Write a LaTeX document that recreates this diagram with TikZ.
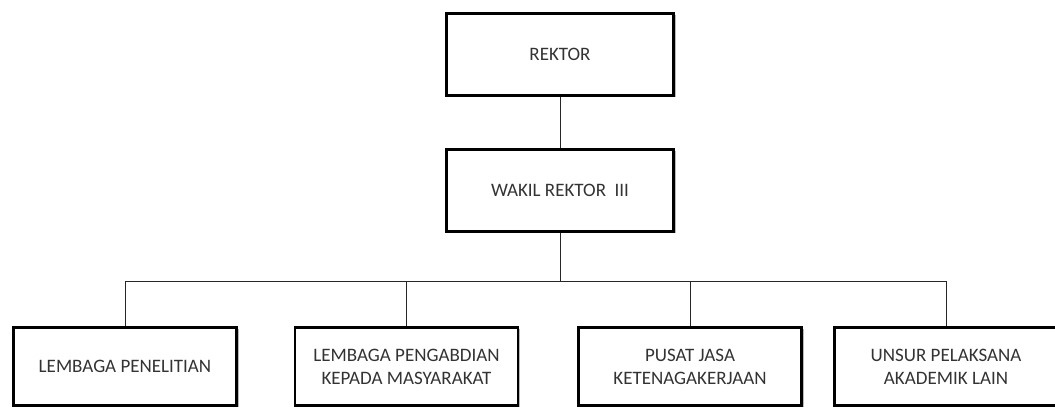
\documentclass[tikz,border=0pt]{standalone}
\usepackage{fontspec}
\setmainfont{Carlito}
\usetikzlibrary{shadows}
\usetikzlibrary{positioning}

\begin{document}
\begin{tikzpicture}[x=1pt, y=-1pt,
		every node/.style={draw=black, line width=2.6pt, fill=white, align=center, text=black!80, inner sep=0pt, font=\fontsize{19}{23}\selectfont, drop shadow={shadow xshift=2pt, shadow yshift=-2pt, fill=black!50, opacity=0.55}},
		head/.style={minimum width=227pt, minimum height=82pt},
		unit/.style={minimum width=223pt, minimum height=78pt},
		link/.style={draw=black!85, line width=0.9pt}]
			
			\useasboundingbox (0,0) rectangle (1055,411);
			
			\node[head] (rektor) at (560, 54.5) {REKTOR};
			\node[head] (wakil) at (560, 190.5) {WAKIL REKTOR~~III};
			
			\node[unit] (lp) at (125, 366.5) {LEMBAGA PENELITIAN};
			\node[unit] (lpm) at (406.5, 366.5) {LEMBAGA PENGABDIAN\\KEPADA MASYARAKAT};
			\node[unit] (pjk) at (690, 366.5) {PUSAT JASA\\KETENAGAKERJAAN};
			\node[unit] (upa) at (946, 366.5) {UNSUR PELAKSANA\\AKADEMIK LAIN};
			
			\coordinate (bus) at (560, 281);
			
			%  top
			\draw[link] (rektor) -- (wakil);
			\draw[link] (wakil) -- (bus);
			%  units
			\draw[link] (bus) -| (lp);
			\draw[link] (bus) -| (lpm);
			\draw[link] (bus) -| (pjk);
			\draw[link] (bus) -| (upa);
		\end{tikzpicture}
\end{document}
